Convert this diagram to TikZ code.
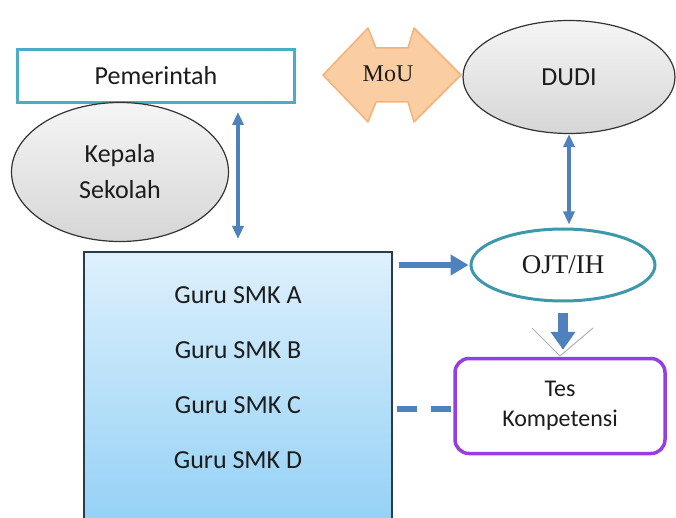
\documentclass[tikz,border=0pt]{standalone}
\usepackage{fontspec}
\setmainfont{Carlito}
\newfontfamily\seriftext{Liberation Serif}
\usetikzlibrary{arrows.meta, shapes.geometric, positioning, calc}
\definecolor{mainteal}{RGB}{75, 172, 198}
\definecolor{ojtteal}{RGB}{62, 152, 172}
\definecolor{arrowblue}{RGB}{79, 129, 189}
\definecolor{mouorange}{RGB}{251, 205, 162}
\definecolor{mouedge}{RGB}{244, 178, 120}
\definecolor{tespurple}{RGB}{150, 62, 228}
\definecolor{gurutop}{RGB}{222, 240, 252}
\definecolor{gurubottom}{RGB}{140, 206, 245}
\definecolor{guruedge}{RGB}{40, 60, 75}
\definecolor{textgray}{RGB}{28, 28, 28}

\begin{document}
\begin{tikzpicture}[x=1pt, y=-1pt,
    lbl/.style={font=\fontsize{26}{36}\selectfont, text=textgray, align=center},
    oval/.style={ellipse, draw=black!80, line width=1.2pt,
        top color=gray!8, bottom color=gray!32, inner sep=0pt},
    link/.style={arrowblue, line width=4pt,
        {Triangle[width=11pt,length=13pt]}-{Triangle[width=11pt,length=13pt]}},
    flow/.style={arrowblue, line width=6pt, -{Triangle[width=20pt,length=18pt]}}
]
    \useasboundingbox (0,0) rectangle (676,518);
    \clip (0,0) rectangle (676,518);

    % guru box (runs past the bottom)
    \node[draw=guruedge, line width=2pt, top color=gurutop, bottom color=gurubottom,
        minimum width=308pt, minimum height=300pt, anchor=north] (guru) at (238,251) {};
    \foreach \letter [count=\i] in {A,B,C,D}
        \node[lbl, anchor=base] (guru\letter) at (238,248+55*\i) {Guru SMK \letter};

    \node[lbl, draw=mainteal, line width=3pt, fill=white,
        minimum width=277pt, minimum height=53pt] (pemerintah) at (156,76) {Pemerintah};
    \node[oval, lbl, minimum width=217pt, minimum height=139pt] (kepsek) at (120,172) {Kepala\\Sekolah};
    \node[oval, lbl, minimum width=212pt, minimum height=113pt] (dudi) at (569,77) {DUDI};

    % MoU double arrow
    \filldraw[fill=mouorange, draw=mouedge, line width=1.5pt, line join=round]
        (323,75) -- (368,28) -- (376,48) -- (408,48) -- (414,28) -- (461,75)
        -- (414,122) -- (408,102) -- (376,102) -- (368,122) -- cycle;
    \node[font=\seriftext\fontsize{24}{28}\selectfont, text=textgray] (mou) at (388,74) {MoU};

    \node[ellipse, draw=ojtteal, line width=3pt, fill=white, inner sep=0pt,
        minimum width=184pt, minimum height=72pt,
        font=\seriftext\fontsize{27}{30}\selectfont, text=textgray] (ojt) at (563,265) {OJT/IH};

    \draw[gray!60, line width=1pt] (532,328) -- (560,356) -- (593,328);
    \node[lbl, font=\fontsize{24}{30}\selectfont, draw=tespurple, line width=3.5pt, fill=white,
        rounded corners=14pt, minimum width=210pt, minimum height=95pt] (tes) at (560,406) {Tes\\Kompetensi};

    % connectors
    \draw[link, shorten <=8pt, shorten >=12pt] (pemerintah.south -| guru.north) -- (guru.north);
    \draw[link, shorten >=3pt] (dudi.south) -- (dudi.south |- ojt.north);
    \draw[flow, shorten <=6pt, shorten >=1pt] (guru.east |- ojt.west) -- (ojt.west);
    \draw[arrowblue, line width=10pt, -{Triangle[width=24pt,length=18pt]},
        shorten <=10pt, shorten >=7pt] (ojt.south) -- (ojt.south |- tes.north);
    \draw[arrowblue, line width=6pt, dash pattern=on 20pt off 14pt, shorten <=4pt]
        ([yshift=-3pt]guru.east |- tes.west) -- ([yshift=-3pt]tes.west);
\end{tikzpicture}
\end{document}
